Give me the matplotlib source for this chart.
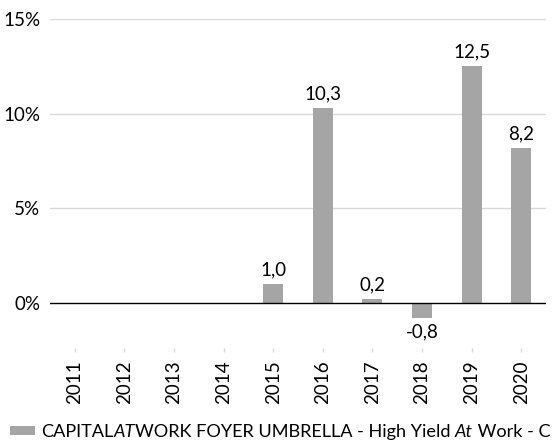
import matplotlib
matplotlib.use("Agg")
import matplotlib.pyplot as plt
import numpy as np
from matplotlib.patches import Rectangle

years = ["2011", "2012", "2013", "2014", "2015", "2016", "2017", "2018", "2019", "2020"]
values = [np.nan, np.nan, np.nan, np.nan, 1.0, 10.3, 0.2, -0.8, 12.5, 8.2]
yticks = [0, 5, 10, 15]
ytick_labels = ["0%", "5%", "10%", "15%"]
legend_parts = [("CAPITAL", "normal"), ("AT", "italic"), ("WORK FOYER UMBRELLA - High Yield ", "normal"),
                ("At", "italic"), (" Work - C", "normal")]

FONT = "Lato"
plt.rcParams["font.family"] = [FONT, "DejaVu Sans"]
FS = 13.5
BAR = "#a5a5a5"

W, H = 553, 446
fig = plt.figure(figsize=(W / 100, H / 100), dpi=100)
left, right, top, bottom = 50, 546, 19, 348
ax = fig.add_axes([left / W, 1 - bottom / H, (right - left) / W, (bottom - top) / H])

x = np.arange(len(years))
ax.bar(x, values, width=0.4, color=BAR, zorder=3)

ppp = (303 - 19) / 15.0
ax.set_ylim(-(bottom - 303) / ppp, 15)
ax.set_xlim(-0.5, len(years) - 0.5)

for xi, v in zip(x, values):
    if np.isnan(v):
        continue
    s = f"{v:.1f}".replace(".", ",")
    if v >= 0:
        ax.annotate(s, (xi, v), xytext=(0, 4), textcoords="offset points", ha="center", va="bottom",
                    fontsize=FS, color="#000000")
    else:
        ax.annotate(s, (xi, v), xytext=(0, -4), textcoords="offset points", ha="center", va="top",
                    fontsize=FS, color="#000000")

for t in yticks[1:]:
    ax.axhline(t, color="#d9d9d9", lw=1.0, zorder=1)
ax.axhline(0, color="#000000", lw=1.0, zorder=4)

ax.set_yticks(yticks)
ax.set_yticklabels(ytick_labels, fontsize=FS)
ax.tick_params(axis="y", length=0, pad=7)
ax.set_xticks(x)
ax.set_xticklabels(years, rotation=90, fontsize=FS)
ax.tick_params(axis="x", length=3, color="#d9d9d9", pad=6, width=1)
for sp in ax.spines.values():
    sp.set_visible(False)

# Legend with mixed italics
fig.patches.append(Rectangle((10 / W, 1 - 435 / H), 25 / W, 9 / H, transform=fig.transFigure,
                             facecolor=BAR, edgecolor="none"))
fig.canvas.draw()
renderer = fig.canvas.get_renderer()


def draw_legend(fs, commit):
    xpos = 41
    texts = []
    for txt, style in legend_parts:
        t = fig.text(xpos / W, 1 - 437 / H, txt, fontsize=fs, style=style, ha="left", va="baseline",
                     color="#000000")
        bb = t.get_window_extent(renderer=renderer)
        xpos = bb.x1
        texts.append(t)
    if not commit:
        for t in texts:
            t.remove()
    return xpos


end = draw_legend(FS, False)
lfs = FS * (551 - 41) / (end - 41)
draw_legend(lfs, True)

fig.savefig("out.png", dpi=100)
